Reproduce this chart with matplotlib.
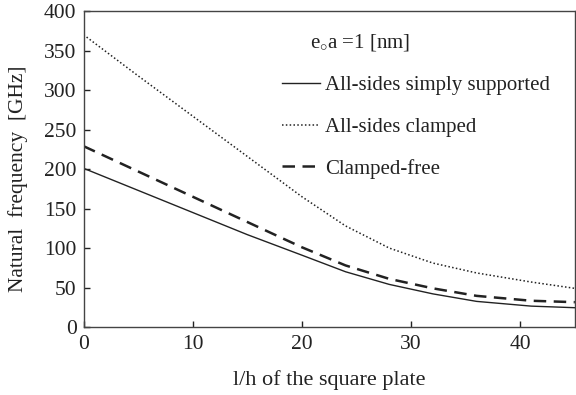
import matplotlib
matplotlib.use("Agg")
import matplotlib.pyplot as plt

plt.rcParams['font.family'] = ['Liberation Serif', 'DejaVu Serif']
plt.rcParams['mathtext.fontset'] = 'custom'
plt.rcParams['mathtext.rm'] = 'Liberation Serif'
plt.rcParams['mathtext.it'] = 'Liberation Serif'

lh = [0, 5, 10, 15, 20, 24, 28, 32, 36, 41, 45]
simply_supported = [201, 173, 145, 117, 91, 70, 54, 42, 32.5, 26.5, 24.5]
all_clamped = [370, 318, 267, 216, 165, 128, 100, 81, 68.5, 57, 49]
clamped_free = [229, 197, 165, 133, 101, 78, 61, 49, 39.5, 33.3, 31.5]

xticks = [0, 10, 20, 30, 40]
yticks = [0, 50, 100, 150, 200, 250, 300, 350, 400]

fig = plt.figure(figsize=(5.76, 3.95), dpi=100)
ax = fig.add_axes([0.145, 0.172, 0.853, 0.80])

ax.plot(lh, simply_supported, color='#222222', lw=1.0, ls='-', label='All-sides simply supported')
ax.plot(lh, all_clamped, color='#222222', lw=1.1, ls=(0, (1, 1.5)), label='All-sides clamped')
ax.plot(lh, clamped_free, color='#222222', lw=1.8, ls=(0, (5, 3)), label='Clamped-free')

ax.set_xlim(0, 45)
ax.set_ylim(0, 400)
ax.set_xticks(xticks)
ax.set_yticks(yticks)
ax.tick_params(direction='in', length=4, width=1, labelsize=15.5, colors='#222222')
ax.tick_params(axis='x', pad=6)
ax.tick_params(axis='y', pad=5)
for s in ax.spines.values():
    s.set_color('#444444')
    s.set_linewidth(1.0)

ax.set_xlabel('l/h of the square plate', fontsize=16, color='#222222', labelpad=11)
ax.set_ylabel('Natural  frequency  [GHz]', fontsize=15.5, color='#222222')
ax.yaxis.set_label_coords(-0.113, 0.47)

ax.text(0.461, 0.899, r'e$_{\circ}$a =1 [nm]', transform=ax.transAxes, fontsize=15, color='#222222', ha='left', va='center')
leg = ax.legend(loc='upper left', bbox_to_anchor=(0.403, 0.795), frameon=False, fontsize=15,
                handlelength=1.85, handletextpad=0.25, labelspacing=1.05, borderaxespad=0,
                borderpad=0)
for t in leg.get_texts():
    t.set_color('#222222')

fig.savefig('out.png', dpi=100)
